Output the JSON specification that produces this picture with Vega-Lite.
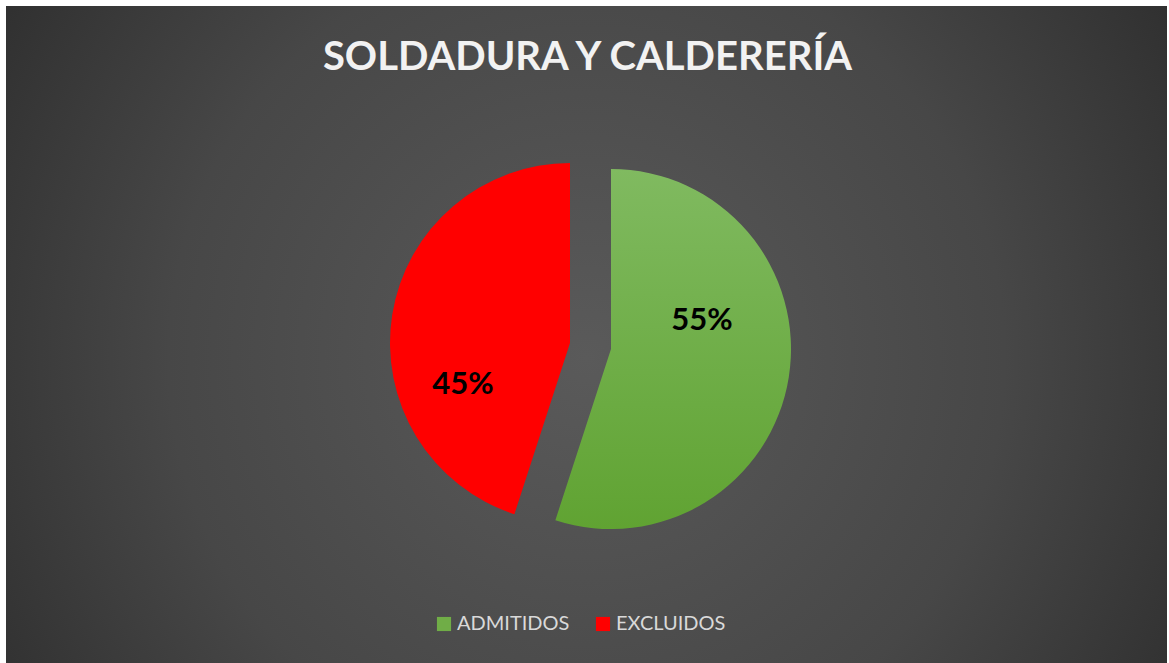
{
  "$schema": "https://vega.github.io/schema/vega-lite/v6.json",
  "width": 1169,
  "height": 663,
  "autosize": {"type": "fit", "contains": "padding"},
  "padding": {"left": 6, "top": 6, "right": 2, "bottom": 0},
  "background": "#ffffff",
  "view": {
    "stroke": null,
    "fill": {
      "gradient": "radial",
      "x1": 0.5, "y1": 0.52, "r1": 0,
      "x2": 0.5, "y2": 0.52, "r2": 0.72,
      "stops": [
        {"offset": 0, "color": "#5a5a5a"},
        {"offset": 0.5, "color": "#474747"},
        {"offset": 1, "color": "#232323"}
      ]
    }
  },
  "datasets": {
    "porcentajes": [
      {"categoria": "ADMITIDOS", "porcentaje": 0.55},
      {"categoria": "EXCLUIDOS", "porcentaje": 0.45}
    ],
    "titulo": [
      {"titulo": "SOLDADURA Y CALDERERÍA"}
    ]
  },
  "data": {"name": "porcentajes"},
  "layer": [
    {
      "data": {"name": "titulo"},
      "mark": {
        "type": "text",
        "xOffset": 1,
        "yOffset": -264.5,
        "font": "Lato",
        "fontSize": 40,
        "fontWeight": "bold",
        "color": "#f2f2f2",
        "align": "center",
        "baseline": "alphabetic"
      },
      "encoding": {
        "text": {"field": "titulo", "type": "nominal"}
      }
    },
    {
      "mark": {
        "type": "arc",
        "outerRadius": 180,
        "xOffset": 24.5,
        "yOffset": 14.5,
        "stroke": null,
        "fill": {
          "gradient": "linear",
          "x1": 0, "y1": 0, "x2": 0, "y2": 1,
          "stops": [
            {"offset": 0, "color": "#80ba60"},
            {"offset": 1, "color": "#60a332"}
          ]
        }
      },
      "encoding": {
        "theta": {"field": "porcentaje", "type": "quantitative", "stack": true},
        "detail": {"field": "categoria", "type": "nominal"},
        "order": {"field": "categoria", "sort": "ascending"},
        "fillOpacity": {
          "condition": {"test": "datum.categoria === 'ADMITIDOS'", "value": 1},
          "value": 0
        }
      }
    },
    {
      "mark": {
        "type": "arc",
        "outerRadius": 180,
        "xOffset": -16.5,
        "yOffset": 8.5,
        "stroke": null
      },
      "encoding": {
        "theta": {"field": "porcentaje", "type": "quantitative", "stack": true},
        "order": {"field": "categoria", "sort": "ascending"},
        "color": {
          "field": "categoria",
          "type": "nominal",
          "scale": {"domain": ["ADMITIDOS", "EXCLUIDOS"], "range": ["#70ad47", "#ff0000"]},
          "legend": {
            "orient": "none",
            "legendX": 428,
            "legendY": 608,
            "direction": "horizontal",
            "title": null,
            "symbolType": "square",
            "symbolSize": 200,
            "symbolStrokeWidth": 0,
            "symbolOpacity": 1,
            "labelFont": "Lato",
            "labelFontSize": 20,
            "labelColor": "#d9d9d9",
            "labelOffset": 3,
            "columnPadding": 23
          }
        },
        "fillOpacity": {
          "condition": {"test": "datum.categoria === 'EXCLUIDOS'", "value": 1},
          "value": 0
        }
      }
    },
    {
      "transform": [{"filter": "datum.categoria === 'ADMITIDOS'"}],
      "mark": {
        "type": "text",
        "xOffset": 115.5,
        "yOffset": -13.5,
        "font": "Lato",
        "fontSize": 31,
        "fontWeight": "bold",
        "color": "#000000",
        "align": "center",
        "baseline": "middle"
      },
      "encoding": {
        "text": {"field": "porcentaje", "type": "quantitative", "format": ".0%"}
      }
    },
    {
      "transform": [{"filter": "datum.categoria === 'EXCLUIDOS'"}],
      "mark": {
        "type": "text",
        "xOffset": -123.5,
        "yOffset": 50.5,
        "font": "Lato",
        "fontSize": 31,
        "fontWeight": "bold",
        "color": "#000000",
        "align": "center",
        "baseline": "middle"
      },
      "encoding": {
        "text": {"field": "porcentaje", "type": "quantitative", "format": ".0%"}
      }
    }
  ]
}
